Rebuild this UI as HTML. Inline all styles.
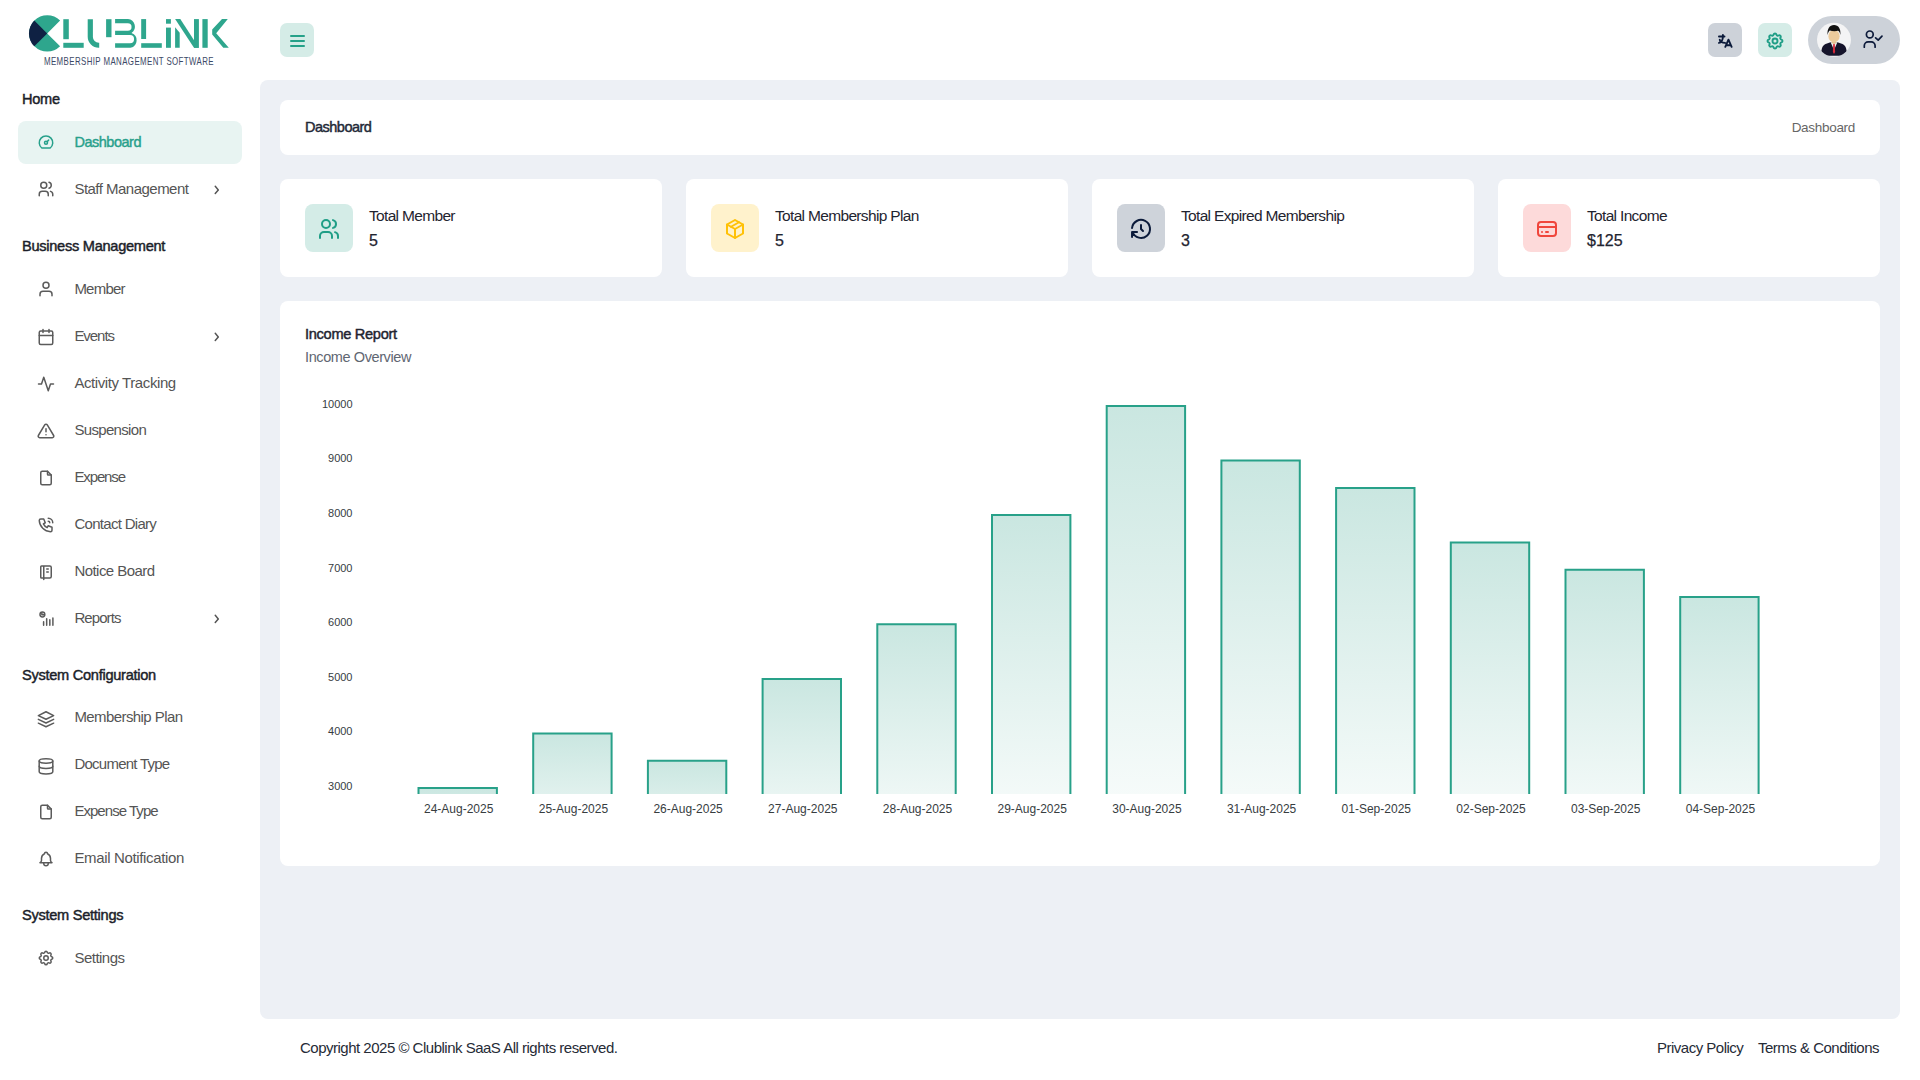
<!DOCTYPE html>
<html>
<head>
<meta charset="utf-8">
<style>
*{box-sizing:border-box;margin:0;padding:0}
html,body{width:1920px;height:1080px;overflow:hidden;background:#fff;font-family:"Liberation Sans",sans-serif;color:#333}
.abs{position:absolute}
.t{position:absolute;white-space:nowrap;line-height:20px}
/* sidebar */
.sh{position:absolute;left:22px;font-size:14.6px;font-weight:400;color:#1b1e29;-webkit-text-stroke:0.45px #1b1e29;letter-spacing:-0.28px;line-height:20px;white-space:nowrap}
.mi{position:absolute;left:18px;width:224px;height:43px;border-radius:8px}
.mi.active{background:#e8f4f2}
.mi svg.ic{position:absolute;overflow:visible;left:19px;top:12.3px;width:18px;height:18px;fill:none;stroke:#5b5b5b;stroke-width:2;stroke-linecap:round;stroke-linejoin:round}
.mi.active svg.ic{stroke:#27a08b}
.mi .lb{position:absolute;left:56.4px;top:11px;font-size:15px;line-height:20px;letter-spacing:-0.45px;color:#555;white-space:nowrap}
.mi.active .lb{color:#27a08b;-webkit-text-stroke:0.4px #27a08b;font-size:14.5px;letter-spacing:-0.45px}
.mi .chev{position:absolute;left:194px;top:15px;width:12px;height:12px;fill:none;stroke:#555;stroke-width:1.5;stroke-linecap:round;stroke-linejoin:round}
/* main */
.main{position:absolute;left:260px;top:80px;width:1640px;height:939px;background:#edf0f5;border-radius:8px}
.card{position:absolute;background:#fff;border-radius:8px}
.sico{position:absolute;left:25px;top:25px;width:48px;height:48px;border-radius:8px}
.sico svg{position:absolute;left:12px;top:13px;width:24px;height:24px;fill:none;stroke-width:2;stroke-linecap:round;stroke-linejoin:round}
.stl{position:absolute;left:89px;top:26.5px;font-size:15.5px;line-height:20px;color:#1f2430;letter-spacing:-0.67px;white-space:nowrap}
.sval{position:absolute;left:89px;top:52px;font-size:16px;line-height:20px;font-weight:400;-webkit-text-stroke:0.25px #1f2430;color:#1f2430;white-space:nowrap}
</style>
</head>
<body>

<!-- ================= LOGO ================= -->
<svg class="abs" style="left:0;top:0" width="260" height="80" viewBox="0 0 260 80">
  <g fill="#2ea68d">
    <!-- C: circle with mouth -->
    <path d="M47.2 33.4 L60.1 20.5 A18.2 18.2 0 1 0 60.1 46.3 Z"/>
  </g>
  <path d="M47.2 33.4 L34.3 20.5 A18.2 18.2 0 0 0 34.3 46.3 Z" fill="#0f2143"/>
  <g fill="#2ea68d">
    <!-- L -->
    <rect x="63.3" y="19.2" width="5.5" height="20"/>
    <rect x="63.3" y="42.8" width="20.4" height="5"/>
    <!-- U left -->
    <path d="M87.7 19.2 H92.9 V37 A5.8 5.8 0 0 0 98.7 42.8 H99.2 V47.8 H98.7 A11 11 0 0 1 87.7 36.8 Z"/>
    <!-- U right -->
    <rect x="106.1" y="19.2" width="5.4" height="18"/>
    <!-- B -->
    <path d="M115.1 19.1 H128 A7.6 7.6 0 0 1 131.5 33 A7.7 7.7 0 0 1 130.5 47.8 H115.1 V43.2 H130 A3.6 3.6 0 0 0 130 35.1 H115.1 V30.8 H127.8 A3.3 3.3 0 0 0 127.8 23.3 H115.1 Z"/>
    <!-- L2 -->
    <rect x="141.2" y="19.1" width="4.9" height="19.9"/>
    <rect x="141.2" y="43.2" width="20.6" height="4.6"/>
    <!-- i -->
    <rect x="166" y="19.1" width="4.9" height="4.6"/>
    <rect x="166" y="27.6" width="4.9" height="20.2"/>
    <!-- N -->
    <path d="M175.1 27.3 L179.7 32.8 V47.8 H175.1 Z"/>
    <path d="M175.1 19.1 H180.3 L198.9 47.8 H194 Z"/>
    <rect x="194" y="19.1" width="4.9" height="28.7"/>
    <!-- K -->
    <rect x="202.4" y="19.1" width="5.3" height="28.7"/>
    <path d="M222 19.1 H227.8 L216.2 33.2 L228.8 47.8 H223.3 L212.2 34.6 V29.5 Z"/>
  </g>
  <text transform="scale(0.76 1)" x="57.9" y="65.2" font-family="Liberation Sans" font-size="10.4" fill="#3b4866" textLength="223.2" lengthAdjust="spacing">MEMBERSHIP MANAGEMENT SOFTWARE</text>
</svg>

<!-- ================= SIDEBAR ================= -->
<div class="sh" style="top:89.15px">Home</div>
<div class="sh" style="top:236.25px">Business Management</div>
<div class="sh" style="top:664.75px">System Configuration</div>
<div class="sh" style="top:905.15px">System Settings</div>
<div class="mi active" style="top:121.2px"><svg class="ic" viewBox="0 0 24 24"><circle cx="12" cy="13" r="2"/><path d="M13.45 11.55l2.05-2.05"/><path d="M6.4 20a9 9 0 1 1 11.2 0z"/></svg><div class="lb" style="letter-spacing:-0.475px">Dashboard</div></div>
<div class="mi" style="top:168.1px"><svg class="ic" viewBox="0 0 24 24"><path d="M9 7m-4 0a4 4 0 1 0 8 0a4 4 0 1 0-8 0"/><path d="M3 21v-2a4 4 0 0 1 4-4h4a4 4 0 0 1 4 4v2"/><path d="M16 3.13a4 4 0 0 1 0 7.75"/><path d="M21 21v-2a4 4 0 0 0-3-3.85"/></svg><div class="lb" style="letter-spacing:-0.517px">Staff Management</div><svg class="chev" viewBox="0 0 12 12"><path d="M3.25 3.3L6.3 6.9L3.25 10.5"/></svg></div>
<div class="mi" style="top:268.2px"><svg class="ic" viewBox="0 0 24 24"><path d="M20 21v-2a4 4 0 0 0-4-4H8a4 4 0 0 0-4 4v2"/><circle cx="12" cy="7" r="4"/></svg><div class="lb" style="letter-spacing:-0.770px">Member</div></div>
<div class="mi" style="top:315.3px"><svg class="ic" viewBox="0 0 24 24"><rect x="3" y="4" width="18" height="18" rx="2"/><path d="M16 2v4M8 2v4M3 10h18"/></svg><div class="lb" style="letter-spacing:-1.050px">Events</div><svg class="chev" viewBox="0 0 12 12"><path d="M3.25 3.3L6.3 6.9L3.25 10.5"/></svg></div>
<div class="mi" style="top:362.3px"><svg class="ic" viewBox="0 0 24 24"><path d="M22 12h-4l-3 9L9 3l-3 9H2"/></svg><div class="lb" style="letter-spacing:-0.412px">Activity Tracking</div></div>
<div class="mi" style="top:409.3px"><svg class="ic" viewBox="0 0 24 24"><path d="M10.29 3.86L1.82 18a2 2 0 0 0 1.71 3h16.94a2 2 0 0 0 1.71-3L13.71 3.86a2 2 0 0 0-3.42 0z"/><path d="M12 9v4"/><path d="M12 17h.01"/></svg><div class="lb" style="letter-spacing:-0.672px">Suspension</div></div>
<div class="mi" style="top:456.3px"><svg class="ic" viewBox="0 0 24 24"><path d="M14 3v4a1 1 0 0 0 1 1h4"/><path d="M17 21h-10a2 2 0 0 1-2-2v-14a2 2 0 0 1 2-2h7l5 5v11a2 2 0 0 1-2 2z"/></svg><div class="lb" style="letter-spacing:-1.117px">Expense</div></div>
<div class="mi" style="top:503.3px"><svg class="ic" viewBox="0 0 24 24"><path d="M5 4h4l2 5l-2.5 1.5a11 11 0 0 0 5 5l1.5-2.5l5 2v4a2 2 0 0 1-2 2a16 16 0 0 1-15-15a2 2 0 0 1 2-2"/><path d="M15 7a2 2 0 0 1 2 2"/><path d="M15 3a6 6 0 0 1 6 6"/></svg><div class="lb" style="letter-spacing:-0.700px">Contact Diary</div></div>
<div class="mi" style="top:550.3px"><svg class="ic" viewBox="0 0 24 24"><path d="M6 4h11a2 2 0 0 1 2 2v12a2 2 0 0 1-2 2h-11a1 1 0 0 1-1-1v-14a1 1 0 0 1 1-1m3 0v18"/><path d="M13 8h2"/><path d="M13 12h2"/></svg><div class="lb" style="letter-spacing:-0.541px">Notice Board</div></div>
<div class="mi" style="top:597.3px"><svg class="ic" viewBox="0 0 24 24"><circle cx="7.2" cy="6" r="3.2"/><path d="M6.5 3.6V6.4H9.2"/><path d="M8.8 20.4V15.6M12.9 20.4V11.6M17.1 20.4V13M21.2 20.4V10.7"/></svg><div class="lb" style="letter-spacing:-0.917px">Reports</div><svg class="chev" viewBox="0 0 12 12"><path d="M3.25 3.3L6.3 6.9L3.25 10.5"/></svg></div>
<div class="mi" style="top:696.3px"><svg class="ic" viewBox="0 0 24 24"><path d="M12 3.7L1.8 8.9L12 13.7L22.2 8.9Z"/><path d="M1.8 13.8L12 18.7L22.2 13.8"/><path d="M1.8 18.9L12 23.6L22.2 18.9"/></svg><div class="lb" style="letter-spacing:-0.579px">Membership Plan</div></div>
<div class="mi" style="top:743.3px"><svg class="ic" viewBox="0 0 24 24"><ellipse cx="12" cy="6.6" rx="9.07" ry="2.9"/><path d="M2.93 6.6V13.6A9.07 2.9 0 0 0 21.07 13.6V6.6"/><path d="M2.93 13.6V21.1A9.07 2.9 0 0 0 21.07 21.1V13.6"/></svg><div class="lb" style="letter-spacing:-0.750px">Document Type</div></div>
<div class="mi" style="top:790.3px"><svg class="ic" viewBox="0 0 24 24"><path d="M14 3v4a1 1 0 0 0 1 1h4"/><path d="M17 21h-10a2 2 0 0 1-2-2v-14a2 2 0 0 1 2-2h7l5 5v11a2 2 0 0 1-2 2z"/></svg><div class="lb" style="letter-spacing:-0.959px">Expense Type</div></div>
<div class="mi" style="top:837.3px"><svg class="ic" viewBox="0 0 24 24"><path d="M10 5a2 2 0 1 1 4 0a7 7 0 0 1 4 6v3a4 4 0 0 0 2 3h-16a4 4 0 0 0 2-3v-3a7 7 0 0 1 4-6"/><path d="M9 17v1a3 3 0 0 0 6 0v-1"/></svg><div class="lb" style="letter-spacing:-0.344px">Email Notification</div></div>
<div class="mi" style="top:936.60px"><svg class="ic" viewBox="0 0 24 24"><path d="M10.325 4.317c.426-1.756 2.924-1.756 3.35 0a1.724 1.724 0 0 0 2.573 1.066c1.543-.94 3.31.826 2.37 2.37a1.724 1.724 0 0 0 1.065 2.572c1.756.426 1.756 2.924 0 3.35a1.724 1.724 0 0 0-1.066 2.573c.94 1.543-.826 3.31-2.37 2.37a1.724 1.724 0 0 0-2.572 1.065c-.426 1.756-2.924 1.756-3.35 0a1.724 1.724 0 0 0-2.573-1.066c-1.543.94-3.31-.826-2.37-2.37a1.724 1.724 0 0 0-1.065-2.572c-1.756-.426-1.756-2.924 0-3.35a1.724 1.724 0 0 0 1.066-2.573c-.94-1.543.826-3.31 2.37-2.37c1 .608 2.296.07 2.572-1.065z"/><path d="M9 12a3 3 0 1 0 6 0a3 3 0 0 0-6 0"/></svg><div class="lb" style="letter-spacing:-0.507px">Settings</div></div>

<!-- ================= HEADER ================= -->
<div class="abs" style="left:280px;top:23px;width:34px;height:34px;border-radius:7px;background:#d5ece7">
  <div class="abs" style="left:9.7px;top:12px;width:15.5px;height:2px;border-radius:1px;background:#26a189"></div>
  <div class="abs" style="left:9.7px;top:17px;width:15.5px;height:2px;border-radius:1px;background:#26a189"></div>
  <div class="abs" style="left:9.7px;top:22px;width:15.5px;height:2px;border-radius:1px;background:#26a189"></div>
</div>

<div class="abs" style="left:1708px;top:23px;width:34px;height:34px;border-radius:7px;background:#cdd2d9">
  <svg class="abs" style="left:7.1px;top:8.1px;overflow:visible" width="19" height="19" viewBox="0 0 24 24" fill="none" stroke="#0b1a3a" stroke-width="2.4" stroke-linecap="round" stroke-linejoin="round"><path d="M5 7h7m-2-2v2a5 8 0 0 1-5 8m1-4a7 4 0 0 0 6.7 4m.3 5l4-9l4 9m-.9-2h-6.2"/></svg>
</div>
<div class="abs" style="left:1758px;top:23px;width:34px;height:34px;border-radius:7px;background:#d5ece7">
  <svg class="abs" style="left:7.4px;top:8px" width="20" height="20" viewBox="0 0 24 24" fill="none" stroke="#1f9e86" stroke-width="2.3" stroke-linecap="round" stroke-linejoin="round"><path d="M10.325 4.317c.426-1.756 2.924-1.756 3.35 0a1.724 1.724 0 0 0 2.573 1.066c1.543-.94 3.31.826 2.37 2.37a1.724 1.724 0 0 0 1.065 2.572c1.756.426 1.756 2.924 0 3.35a1.724 1.724 0 0 0-1.066 2.573c.94 1.543-.826 3.31-2.37 2.37a1.724 1.724 0 0 0-2.572 1.065c-.426 1.756-2.924 1.756-3.35 0a1.724 1.724 0 0 0-2.573-1.066c-1.543.94-3.31-.826-2.37-2.37a1.724 1.724 0 0 0-1.065-2.572c-1.756-.426-1.756-2.924 0-3.35a1.724 1.724 0 0 0 1.066-2.573c-.94-1.543.826-3.31 2.37-2.37c1 .608 2.296.07 2.572-1.065z"/><path d="M9 12a3 3 0 1 0 6 0a3 3 0 0 0-6 0"/></svg>
</div>
<div class="abs" style="left:1808px;top:16px;width:92px;height:48px;border-radius:24px;background:#cdd2d9"></div>
<svg class="abs" style="left:1808px;top:16px" width="92" height="48" viewBox="1808 16 92 48">
  <defs><clipPath id="avc"><circle cx="1834" cy="39.7" r="17"/></clipPath></defs>
  <circle cx="1834" cy="39.7" r="17" fill="#f4f4f5"/>
  <g clip-path="url(#avc)">
    <!-- suit -->
    <path d="M1821.2 55.8 C1821 50 1822 45.5 1825.5 44 L1830.5 42.2 L1837.5 42.2 L1842.5 44 C1846 45.5 1847 50 1846.8 55.8 Z" fill="#15142b"/>
    <!-- shirt -->
    <path d="M1830.6 42.3 L1834 50 L1837.4 42.3 Z" fill="#f2f2f2"/>
    <path d="M1833.2 44 L1834.8 44 L1835.1 52 L1834 54 L1832.9 52 Z" fill="#d62839"/>
    <!-- neck -->
    <path d="M1831.8 39.5 H1836.2 V43 L1834 44.2 L1831.8 43 Z" fill="#e2be8f"/>
    <!-- face -->
    <ellipse cx="1834" cy="36.2" rx="5.6" ry="6.2" fill="#eccb9c"/>
    <!-- hair -->
    <path d="M1827.6 35 C1827 29 1829.5 25.2 1834 25.1 C1838.6 25.2 1841 29 1840.4 35 C1839.8 32.5 1839.2 31.2 1838 30.8 C1835.5 31.6 1832 31.3 1829.8 30.6 C1828.6 31.5 1828.1 33 1827.6 35 Z" fill="#111111"/>
  </g>
  <g fill="none" stroke="#0c1a3a" stroke-width="1.7" stroke-linecap="round" stroke-linejoin="round">
    <circle cx="1869.8" cy="34.4" r="3.4"/>
    <path d="M1864.3 47.2 V45.7 A3.8 3.8 0 0 1 1868.1 41.9 H1871.3 A3.8 3.8 0 0 1 1875.1 45.7 V47.2"/>
    <path d="M1875.6 37.8 L1878.2 40.1 L1882 36.2"/>
  </g>
</svg>

<!-- ================= MAIN ================= -->
<div class="main"></div>

<!-- title card -->
<div class="card" style="left:280px;top:100px;width:1600px;height:55px">
  <div class="t" style="left:25px;top:17px;font-size:14.5px;font-weight:400;color:#1f2937;-webkit-text-stroke:0.45px #1f2937;letter-spacing:-0.5px">Dashboard</div>
  <div class="t" style="right:25px;top:18px;font-size:13.5px;color:#666;letter-spacing:-0.3px">Dashboard</div>
</div>

<!-- stat cards -->
<div class="card" style="left:280px;top:179px;width:382px;height:98px">
  <div class="sico" style="background:#d4ece7"><svg viewBox="0 0 24 24" style="stroke:#1f9e86"><path d="M9 7m-4 0a4 4 0 1 0 8 0a4 4 0 1 0-8 0"/><path d="M3 21v-2a4 4 0 0 1 4-4h4a4 4 0 0 1 4 4v2"/><path d="M16 3.13a4 4 0 0 1 0 7.75"/><path d="M21 21v-2a4 4 0 0 0-3-3.85"/></svg></div>
  <div class="stl">Total Member</div>
  <div class="sval">5</div>
</div>
<div class="card" style="left:686px;top:179px;width:382px;height:98px">
  <div class="sico" style="background:#fff2cc"><svg viewBox="0 0 24 24" style="stroke:#ffc107"><path d="M12 3l8 4.5l0 9l-8 4.5l-8-4.5l0-9l8-4.5"/><path d="M12 12l8-4.5"/><path d="M12 12l0 9"/><path d="M12 12l-8-4.5"/><path d="M16 5.25l-8 4.5"/></svg></div>
  <div class="stl">Total Membership Plan</div>
  <div class="sval">5</div>
</div>
<div class="card" style="left:1092px;top:179px;width:382px;height:98px">
  <div class="sico" style="background:#ced3da"><svg viewBox="0 0 24 24" style="stroke:#0b1a3a"><path d="M12 8l0 4l2 2"/><path d="M3.05 11a9 9 0 1 1 .5 4m-.5 5v-5h5"/></svg></div>
  <div class="stl">Total Expired Membership</div>
  <div class="sval">3</div>
</div>
<div class="card" style="left:1498px;top:179px;width:382px;height:98px">
  <div class="sico" style="background:#fddada"><svg viewBox="0 0 24 24" style="stroke:#f0463c"><path d="M3 8a3 3 0 0 1 3-3h12a3 3 0 0 1 3 3v8a3 3 0 0 1-3 3h-12a3 3 0 0 1-3-3z"/><path d="M3 10l18 0"/><path d="M7 15l.01 0"/><path d="M11 15l2 0"/></svg></div>
  <div class="stl">Total Income</div>
  <div class="sval">$125</div>
</div>

<!-- chart card -->
<div class="card" style="left:280px;top:301px;width:1600px;height:565px">
  <div class="t" style="left:25px;top:23px;font-size:14.6px;font-weight:400;color:#1f2430;-webkit-text-stroke:0.45px #1f2430;letter-spacing:-0.3px">Income Report</div>
  <div class="t" style="left:25px;top:46px;font-size:14.5px;color:#5f6672;letter-spacing:-0.4px">Income Overview</div>
</div>

<!-- chart svg -->
<svg class="abs" style="left:0;top:0;pointer-events:none" width="1920" height="1080" viewBox="0 0 1920 1080">
<defs>
<linearGradient id="g0" gradientUnits="userSpaceOnUse" x1="0" y1="788.0" x2="0" y2="876"><stop offset="0" stop-color="#2a9d85" stop-opacity="0.25"/><stop offset="1" stop-color="#2a9d85" stop-opacity="0"/></linearGradient>
<linearGradient id="g1" gradientUnits="userSpaceOnUse" x1="0" y1="733.4" x2="0" y2="876"><stop offset="0" stop-color="#2a9d85" stop-opacity="0.25"/><stop offset="1" stop-color="#2a9d85" stop-opacity="0"/></linearGradient>
<linearGradient id="g2" gradientUnits="userSpaceOnUse" x1="0" y1="760.7" x2="0" y2="876"><stop offset="0" stop-color="#2a9d85" stop-opacity="0.25"/><stop offset="1" stop-color="#2a9d85" stop-opacity="0"/></linearGradient>
<linearGradient id="g3" gradientUnits="userSpaceOnUse" x1="0" y1="678.9" x2="0" y2="876"><stop offset="0" stop-color="#2a9d85" stop-opacity="0.25"/><stop offset="1" stop-color="#2a9d85" stop-opacity="0"/></linearGradient>
<linearGradient id="g4" gradientUnits="userSpaceOnUse" x1="0" y1="624.3" x2="0" y2="876"><stop offset="0" stop-color="#2a9d85" stop-opacity="0.25"/><stop offset="1" stop-color="#2a9d85" stop-opacity="0"/></linearGradient>
<linearGradient id="g5" gradientUnits="userSpaceOnUse" x1="0" y1="515.1" x2="0" y2="876"><stop offset="0" stop-color="#2a9d85" stop-opacity="0.25"/><stop offset="1" stop-color="#2a9d85" stop-opacity="0"/></linearGradient>
<linearGradient id="g6" gradientUnits="userSpaceOnUse" x1="0" y1="406.0" x2="0" y2="876"><stop offset="0" stop-color="#2a9d85" stop-opacity="0.25"/><stop offset="1" stop-color="#2a9d85" stop-opacity="0"/></linearGradient>
<linearGradient id="g7" gradientUnits="userSpaceOnUse" x1="0" y1="460.6" x2="0" y2="876"><stop offset="0" stop-color="#2a9d85" stop-opacity="0.25"/><stop offset="1" stop-color="#2a9d85" stop-opacity="0"/></linearGradient>
<linearGradient id="g8" gradientUnits="userSpaceOnUse" x1="0" y1="487.9" x2="0" y2="876"><stop offset="0" stop-color="#2a9d85" stop-opacity="0.25"/><stop offset="1" stop-color="#2a9d85" stop-opacity="0"/></linearGradient>
<linearGradient id="g9" gradientUnits="userSpaceOnUse" x1="0" y1="542.4" x2="0" y2="876"><stop offset="0" stop-color="#2a9d85" stop-opacity="0.25"/><stop offset="1" stop-color="#2a9d85" stop-opacity="0"/></linearGradient>
<linearGradient id="g10" gradientUnits="userSpaceOnUse" x1="0" y1="569.7" x2="0" y2="876"><stop offset="0" stop-color="#2a9d85" stop-opacity="0.25"/><stop offset="1" stop-color="#2a9d85" stop-opacity="0"/></linearGradient>
<linearGradient id="g11" gradientUnits="userSpaceOnUse" x1="0" y1="597.0" x2="0" y2="876"><stop offset="0" stop-color="#2a9d85" stop-opacity="0.25"/><stop offset="1" stop-color="#2a9d85" stop-opacity="0"/></linearGradient>
</defs>
<text x="352.5" y="407.70" text-anchor="end" font-family="Liberation Sans" font-size="11" fill="#373d3f">10000</text>
<text x="352.5" y="462.27" text-anchor="end" font-family="Liberation Sans" font-size="11" fill="#373d3f">9000</text>
<text x="352.5" y="516.84" text-anchor="end" font-family="Liberation Sans" font-size="11" fill="#373d3f">8000</text>
<text x="352.5" y="572.01" text-anchor="end" font-family="Liberation Sans" font-size="11" fill="#373d3f">7000</text>
<text x="352.5" y="625.99" text-anchor="end" font-family="Liberation Sans" font-size="11" fill="#373d3f">6000</text>
<text x="352.5" y="680.56" text-anchor="end" font-family="Liberation Sans" font-size="11" fill="#373d3f">5000</text>
<text x="352.5" y="735.13" text-anchor="end" font-family="Liberation Sans" font-size="11" fill="#373d3f">4000</text>
<text x="352.5" y="789.70" text-anchor="end" font-family="Liberation Sans" font-size="11" fill="#373d3f">3000</text>
<rect x="418.5" y="788.0" width="78.4" height="6.0" fill="url(#g0)"/>
<path d="M418.5 794V788.0H496.9V794" fill="none" stroke="#28a189" stroke-width="2"/>
<text x="457.7" y="812.6" dx="1" text-anchor="middle" font-family="Liberation Sans" font-size="12" fill="#373d3f">24-Aug-2025</text>
<rect x="533.2" y="733.4" width="78.4" height="60.6" fill="url(#g1)"/>
<path d="M533.2 794V733.4H611.6V794" fill="none" stroke="#28a189" stroke-width="2"/>
<text x="572.4" y="812.6" dx="1" text-anchor="middle" font-family="Liberation Sans" font-size="12" fill="#373d3f">25-Aug-2025</text>
<rect x="647.9" y="760.7" width="78.4" height="33.3" fill="url(#g2)"/>
<path d="M647.9 794V760.7H726.3V794" fill="none" stroke="#28a189" stroke-width="2"/>
<text x="687.1" y="812.6" dx="1" text-anchor="middle" font-family="Liberation Sans" font-size="12" fill="#373d3f">26-Aug-2025</text>
<rect x="762.6" y="678.9" width="78.4" height="115.1" fill="url(#g3)"/>
<path d="M762.6 794V678.9H841.0V794" fill="none" stroke="#28a189" stroke-width="2"/>
<text x="801.8" y="812.6" dx="1" text-anchor="middle" font-family="Liberation Sans" font-size="12" fill="#373d3f">27-Aug-2025</text>
<rect x="877.3" y="624.3" width="78.4" height="169.7" fill="url(#g4)"/>
<path d="M877.3 794V624.3H955.7V794" fill="none" stroke="#28a189" stroke-width="2"/>
<text x="916.5" y="812.6" dx="1" text-anchor="middle" font-family="Liberation Sans" font-size="12" fill="#373d3f">28-Aug-2025</text>
<rect x="992.0" y="515.1" width="78.4" height="278.9" fill="url(#g5)"/>
<path d="M992.0 794V515.1H1070.4V794" fill="none" stroke="#28a189" stroke-width="2"/>
<text x="1031.2" y="812.6" dx="1" text-anchor="middle" font-family="Liberation Sans" font-size="12" fill="#373d3f">29-Aug-2025</text>
<rect x="1106.7" y="406.0" width="78.4" height="388.0" fill="url(#g6)"/>
<path d="M1106.7 794V406.0H1185.1V794" fill="none" stroke="#28a189" stroke-width="2"/>
<text x="1145.9" y="812.6" dx="1" text-anchor="middle" font-family="Liberation Sans" font-size="12" fill="#373d3f">30-Aug-2025</text>
<rect x="1221.4" y="460.6" width="78.4" height="333.4" fill="url(#g7)"/>
<path d="M1221.4 794V460.6H1299.8V794" fill="none" stroke="#28a189" stroke-width="2"/>
<text x="1260.6" y="812.6" dx="1" text-anchor="middle" font-family="Liberation Sans" font-size="12" fill="#373d3f">31-Aug-2025</text>
<rect x="1336.1" y="487.9" width="78.4" height="306.1" fill="url(#g8)"/>
<path d="M1336.1 794V487.9H1414.5V794" fill="none" stroke="#28a189" stroke-width="2"/>
<text x="1375.3" y="812.6" dx="1" text-anchor="middle" font-family="Liberation Sans" font-size="12" fill="#373d3f">01-Sep-2025</text>
<rect x="1450.8" y="542.4" width="78.4" height="251.6" fill="url(#g9)"/>
<path d="M1450.8 794V542.4H1529.2V794" fill="none" stroke="#28a189" stroke-width="2"/>
<text x="1490.0" y="812.6" dx="1" text-anchor="middle" font-family="Liberation Sans" font-size="12" fill="#373d3f">02-Sep-2025</text>
<rect x="1565.5" y="569.7" width="78.4" height="224.3" fill="url(#g10)"/>
<path d="M1565.5 794V569.7H1643.9V794" fill="none" stroke="#28a189" stroke-width="2"/>
<text x="1604.7" y="812.6" dx="1" text-anchor="middle" font-family="Liberation Sans" font-size="12" fill="#373d3f">03-Sep-2025</text>
<rect x="1680.2" y="597.0" width="78.4" height="197.0" fill="url(#g11)"/>
<path d="M1680.2 794V597.0H1758.6V794" fill="none" stroke="#28a189" stroke-width="2"/>
<text x="1719.4" y="812.6" dx="1" text-anchor="middle" font-family="Liberation Sans" font-size="12" fill="#373d3f">04-Sep-2025</text>
</svg>

<!-- footer -->
<div class="t" style="left:300px;top:1038px;font-size:15px;color:#262b36;letter-spacing:-0.5px">Copyright 2025 © Clublink SaaS All rights reserved.</div>
<div class="t" style="left:1657px;top:1038px;font-size:15px;color:#262b36;letter-spacing:-0.5px">Privacy Policy</div>
<div class="t" style="left:1758px;top:1038px;font-size:15px;color:#262b36;letter-spacing:-0.5px">Terms &amp; Conditions</div>

</body>
</html>
